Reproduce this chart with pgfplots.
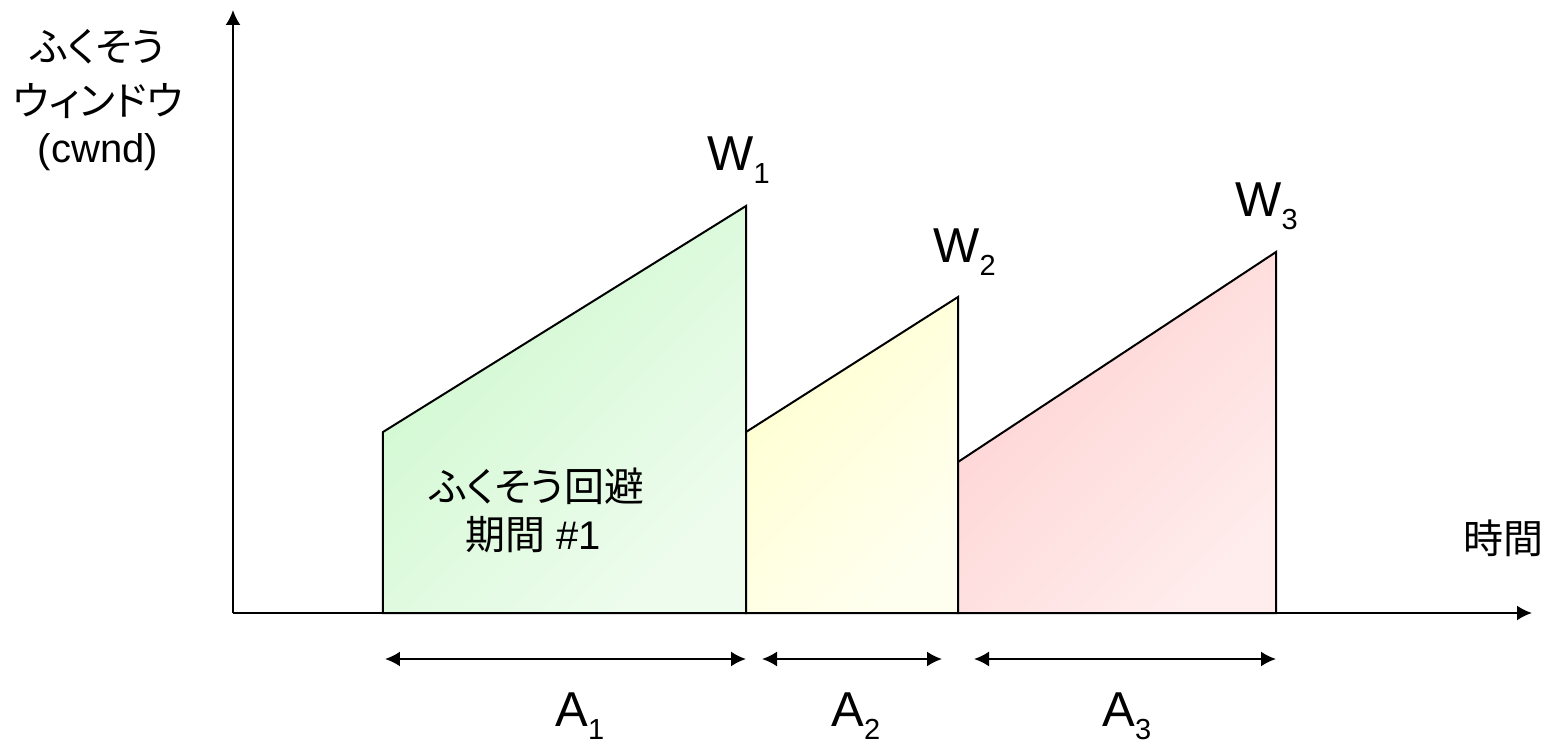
\documentclass[border=0pt]{standalone}
\usepackage{fontspec}
\setmainfont{Liberation Sans}
\newfontfamily\cjk[RawFeature=+palt]{Noto Sans CJK JP}
\usepackage{pgfplots}
\pgfplotsset{compat=1.18}
\usetikzlibrary{arrows.meta}
\definecolor{gA}{RGB}{206,248,206}
\definecolor{gB}{RGB}{238,252,238}
\definecolor{yA}{RGB}{255,255,208}
\definecolor{yB}{RGB}{255,255,240}
\definecolor{pA}{RGB}{255,210,210}
\definecolor{pB}{RGB}{255,236,236}
\newcommand{\Wsub}[2]{#1\raisebox{-6.5bp}{\fontsize{14.5bp}{16bp}\selectfont #2}}
\begin{document}
\begin{tikzpicture}
\begin{axis}[
  x=0.5bp, y=0.5bp,
  xmin=233, xmax=1532, ymin=0, ymax=603,
  axis lines=left,
  axis line style={line width=1bp},
  x axis line style={-{Latex[length=7.5bp,width=7.5bp]}},
  y axis line style={-{Latex[length=7.5bp,width=7.5bp]}},
  ticks=none,
  clip=false,
]
% congestion-avoidance periods (x: time, y: cwnd)
\addplot[draw=black, line width=1bp, top color=gA, bottom color=gB, shading angle=45]
  coordinates {(383,0) (383,181) (746,407) (746,0)} --cycle;
\addplot[draw=black, line width=1bp, top color=yA, bottom color=yB, shading angle=45]
  coordinates {(746,0) (746,181) (958,316) (958,0)} --cycle;
\addplot[draw=black, line width=1bp, top color=pA, bottom color=pB, shading angle=45]
  coordinates {(958,0) (958,151) (1276,361) (1276,0)} --cycle;

% period arrows
\draw[line width=1bp, {Latex[length=7.5bp,width=7.5bp]}-{Latex[length=7.5bp,width=7.5bp]}]
  (axis cs:385,-46) -- (axis cs:746,-46);
\draw[line width=1bp, {Latex[length=7.5bp,width=7.5bp]}-{Latex[length=7.5bp,width=7.5bp]}]
  (axis cs:762,-46) -- (axis cs:942,-46);
\draw[line width=1bp, {Latex[length=7.5bp,width=7.5bp]}-{Latex[length=7.5bp,width=7.5bp]}]
  (axis cs:974,-46) -- (axis cs:1276,-46);

% labels
\begin{scope}[every node/.style={inner sep=0pt, font=\fontsize{24.5bp}{28bp}\selectfont}]
\node[anchor=base west] at (axis cs:707,442) {\Wsub{W}{1}};
\node[anchor=base west] at (axis cs:933,350) {\Wsub{W}{2}};
\node[anchor=base west] at (axis cs:1235,396) {\Wsub{W}{3}};
\node[anchor=base west] at (axis cs:555,-113) {\Wsub{A}{1}};
\node[anchor=base west] at (axis cs:831,-113) {\Wsub{A}{2}};
\node[anchor=base west] at (axis cs:1102,-113) {\Wsub{A}{3}};
\end{scope}
\begin{scope}[every node/.style={inner sep=0pt, font=\fontsize{20bp}{24bp}\selectfont}]
\node at (axis cs:98,566) {\cjk ふくそう};
\node at (axis cs:98,512) {\cjk ウィンドウ};
\node at (axis cs:98,461) {(cwnd)};
\node at (axis cs:1503,75) {\cjk 時間};
\node at (axis cs:537,127) {\cjk ふくそう回避};
\node at (axis cs:533,78) {{\cjk 期間} \#1};
\end{scope}

\coordinate (bbSW) at (axis cs:0,-133);
\coordinate (bbNE) at (axis cs:1556,613);
\end{axis}
\pgfresetboundingbox
\path[use as bounding box] (bbSW) rectangle (bbNE);
\end{tikzpicture}
\end{document}
